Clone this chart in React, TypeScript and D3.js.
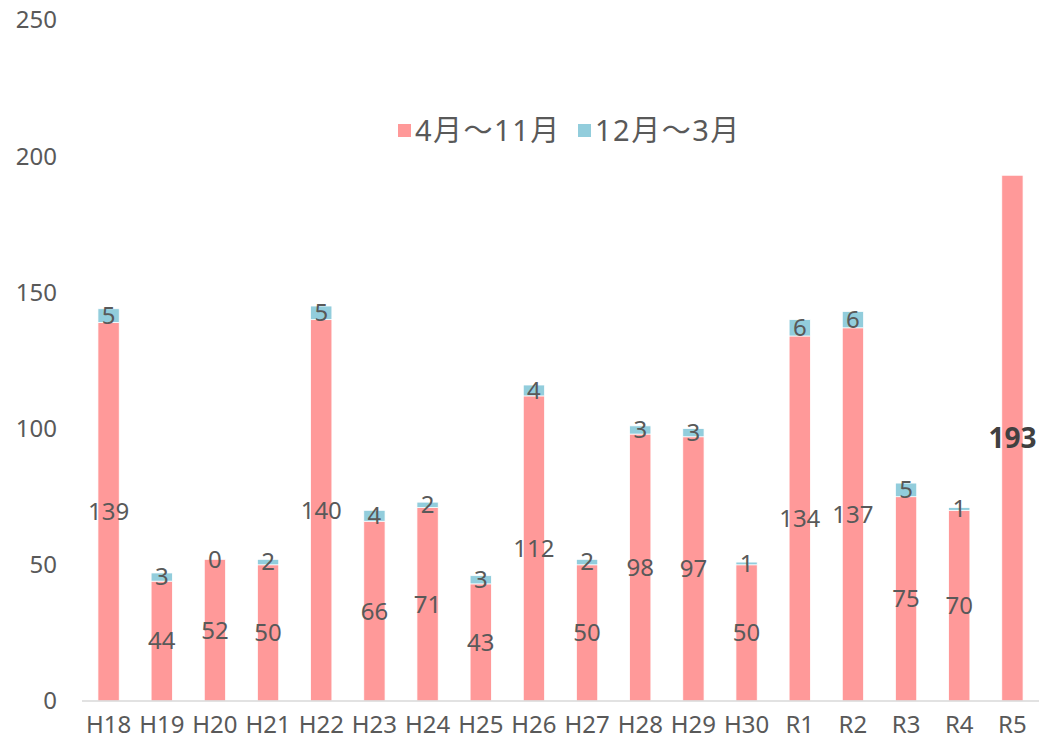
import React, { useRef, useEffect } from "react"
import * as d3 from "d3"

// 年度ラベルと値
const years = ["H18", "H19", "H20", "H21", "H22", "H23", "H24", "H25", "H26", "H27", "H28", "H29", "H30", "R1", "R2", "R3", "R4", "R5"]
const aprNov = [139, 44, 52, 50, 140, 66, 71, 43, 112, 50, 98, 97, 50, 134, 137, 75, 70, 193]
const decMar: (number | null)[] = [5, 3, 0, 2, 5, 4, 2, 3, 4, 2, 3, 3, 1, 6, 6, 5, 1, null]
const seriesNames = ["4月～11月", "12月～3月"]
const colors = ["#FF9999", "#92CDDC"]
const yTicks = [0, 50, 100, 150, 200, 250]

const W = 1039
const H = 746
const FONT = "'Noto Sans', 'Noto Sans CJK JP', sans-serif"
const TEXT = "#595959"

const App = () => {
  const ref = useRef<SVGSVGElement>(null)

  useEffect(() => {
    const svg = d3.select(ref.current)
    svg.selectAll("*").remove()

    const x = d3.scaleBand().domain(years).range([82, 1039]).paddingInner(0.6).paddingOuter(0.3)
    const y = d3.scaleLinear().domain([0, 250]).range([701, 20])

    // y ticks
    svg.append("g")
      .selectAll("text")
      .data(yTicks)
      .enter()
      .append("text")
      .attr("x", 57)
      .attr("y", d => y(d))
      .attr("dy", "0.35em")
      .attr("text-anchor", "end")
      .attr("fill", TEXT)
      .style("font-size", "24px")
      .text(d => d)

    // bars
    const rows = years.map((yr, i) => ({ yr, a: aprNov[i], b: decMar[i] }))
    svg.append("g")
      .selectAll("rect")
      .data(rows)
      .enter()
      .append("rect")
      .attr("x", d => x(d.yr)!)
      .attr("width", x.bandwidth())
      .attr("y", d => y(d.a))
      .attr("height", d => y(0) - y(d.a))
      .attr("fill", colors[0])
      .attr("stroke", "#fff")
      .attr("stroke-width", 0.75)

    svg.append("g")
      .selectAll("rect")
      .data(rows.filter(d => d.b !== null))
      .enter()
      .append("rect")
      .attr("x", d => x(d.yr)!)
      .attr("width", x.bandwidth())
      .attr("y", d => y(d.a + (d.b as number)))
      .attr("height", d => y(d.a) - y(d.a + (d.b as number)))
      .attr("fill", colors[1])
      .attr("stroke", "#fff")
      .attr("stroke-width", 0.75)

    // x axis line
    svg.append("line")
      .attr("x1", 82).attr("x2", 1039)
      .attr("y1", y(0)).attr("y2", y(0))
      .attr("stroke", "#d9d9d9").attr("stroke-width", 1.5)

    // x labels
    svg.append("g")
      .selectAll("text")
      .data(years)
      .enter()
      .append("text")
      .attr("x", d => x(d)! + x.bandwidth() / 2)
      .attr("y", 733)
      .attr("text-anchor", "middle")
      .attr("fill", TEXT)
      .style("font-size", "24px")
      .text(d => d)

    // data labels
    const last = years.length - 1
    svg.append("g")
      .selectAll("text")
      .data(rows)
      .enter()
      .append("text")
      .attr("x", d => x(d.yr)! + x.bandwidth() / 2)
      .attr("y", d => y(d.a / 2))
      .attr("dy", "0.35em")
      .attr("text-anchor", "middle")
      .attr("fill", (d, i) => (i === last ? "#404040" : TEXT))
      .style("font-size", (d, i) => (i === last ? "28px" : "24px"))
      .style("font-weight", (d, i) => (i === last ? "bold" : "normal"))
      .text(d => d.a)

    svg.append("g")
      .selectAll("text")
      .data(rows.filter(d => d.b !== null))
      .enter()
      .append("text")
      .attr("x", d => x(d.yr)! + x.bandwidth() / 2)
      .attr("y", d => y(d.a + (d.b as number) / 2))
      .attr("dy", "0.35em")
      .attr("text-anchor", "middle")
      .attr("fill", TEXT)
      .style("font-size", "24px")
      .text(d => d.b as number)

    // legend
    const lg = svg.append("g")
    const items = [{ x: 398, name: seriesNames[0], c: colors[0] }, { x: 578, name: seriesNames[1], c: colors[1] }]
    items.forEach(it => {
      lg.append("rect").attr("x", it.x).attr("y", 124).attr("width", 13).attr("height", 13).attr("fill", it.c)
      lg.append("text")
        .attr("x", it.x + 17)
        .attr("y", 131)
        .attr("dy", "0.35em")
        .attr("fill", TEXT)
        .style("font-size", "29px")
        .style("letter-spacing", "1.5px")
        .text(it.name)
    })
  }, [])

  return (
    <svg ref={ref} width={W} height={H} style={{ position: "absolute", left: 0, top: 0, fontFamily: FONT, background: "#fff" }}>
    </svg>
  )
}

export default App
